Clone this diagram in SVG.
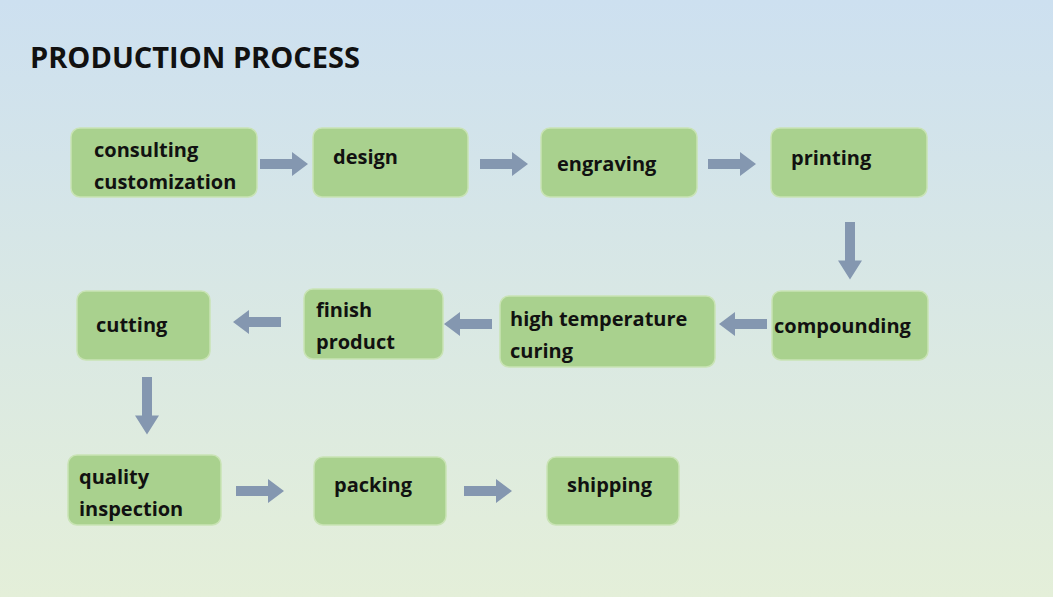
<svg xmlns="http://www.w3.org/2000/svg" width="1053" height="597" viewBox="0 0 1053 597">
<defs>
<linearGradient id="bg" x1="0" y1="0" x2="0" y2="1"><stop offset="0" stop-color="#cde0f0"/><stop offset="1" stop-color="#e4efd9"/></linearGradient>
<style>
.n{fill:#a9d18e;stroke:#c9e3b5;stroke-width:1.5}
.t{font-family:"Open Sans","Liberation Sans",sans-serif;font-weight:bold;font-size:20px;fill:#111}
.a{fill:#8497b0}
</style>
<polygon id="ar" class="a" points="0,-5 32,-5 32,-12 48,0 32,12 32,5 0,5"/>
</defs>
<rect width="1053" height="597" fill="url(#bg)"/>
<text x="30" y="68" font-family="Open Sans,Liberation Sans,sans-serif" font-weight="bold" font-size="29" fill="#111">PRODUCTION PROCESS</text>
<g id="n1"><rect class="n" x="71" y="128" width="186" height="69" rx="9"/><text class="t" x="94" y="157">consulting</text><text class="t" x="94" y="189">customization</text></g>
<g id="n2"><rect class="n" x="313" y="128" width="155" height="69" rx="9"/><text class="t" x="333" y="164">design</text></g>
<g id="n3"><rect class="n" x="541" y="128" width="156" height="69" rx="9"/><text class="t" x="557" y="171">engraving</text></g>
<g id="n4"><rect class="n" x="771" y="128" width="156" height="69" rx="9"/><text class="t" x="791" y="165">printing</text></g>
<g id="n5"><rect class="n" x="772" y="291" width="156" height="69" rx="9"/><text class="t" x="774" y="333">compounding</text></g>
<g id="n6"><rect class="n" x="500" y="296" width="215" height="71" rx="9"/><text class="t" x="510" y="326">high temperature</text><text class="t" x="510" y="358">curing</text></g>
<g id="n7"><rect class="n" x="304" y="289" width="139" height="70" rx="9"/><text class="t" x="316" y="317">finish</text><text class="t" x="316" y="349">product</text></g>
<g id="n8"><rect class="n" x="77" y="291" width="133" height="69" rx="9"/><text class="t" x="96" y="332">cutting</text></g>
<g id="n9"><rect class="n" x="68" y="455" width="153" height="70" rx="9"/><text class="t" x="79" y="484">quality</text><text class="t" x="79" y="516">inspection</text></g>
<g id="n10"><rect class="n" x="314" y="457" width="132" height="68" rx="9"/><text class="t" x="334" y="492">packing</text></g>
<g id="n11"><rect class="n" x="547" y="457" width="132" height="68" rx="9"/><text class="t" x="567" y="492">shipping</text></g>
<g id="connectors">
<use href="#ar" transform="translate(260,164)"/>
<use href="#ar" transform="translate(480,164)"/>
<use href="#ar" transform="translate(708,164)"/>
<use href="#ar" transform="translate(850,222) rotate(90) scale(1.2,1)"/>
<use href="#ar" transform="translate(767,324) rotate(180)"/>
<use href="#ar" transform="translate(492,324) rotate(180)"/>
<use href="#ar" transform="translate(281,322) rotate(180)"/>
<use href="#ar" transform="translate(147,377) rotate(90) scale(1.2,1)"/>
<use href="#ar" transform="translate(236,491)"/>
<use href="#ar" transform="translate(464,491)"/>
</g>
</svg>
